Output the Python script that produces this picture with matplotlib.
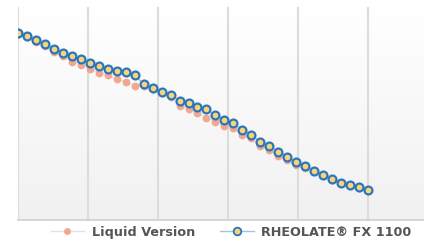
import numpy as np
import matplotlib.pyplot as plt
from matplotlib.lines import Line2D

# ── data (arbitrary units, no axis labels shown) ────────────────────────────
x_idx = np.arange(40)

liquid = [87.3, 85.7, 83.6, 81.5, 79.1, 77.2, 74.4, 73.0, 70.9, 69.2,
          68.1, 66.2, 64.8, 63.1, 62.9, 61.5, 59.6, 57.7, 53.5, 52.1,
          50.2, 48.1, 46.2, 43.9, 43.0, 39.9, 38.3, 34.7, 32.9, 30.0,
          28.2, 25.8, 24.4, 22.5, 20.7, 18.8, 17.4, 16.1, 15.0, 13.9]

rheolate = [87.9, 86.4, 84.5, 82.4, 80.5, 78.6, 76.8, 75.4, 73.9, 72.3,
            71.1, 70.1, 69.5, 67.9, 63.8, 62.0, 60.2, 58.5, 56.1, 54.9,
            53.2, 51.9, 49.3, 46.9, 45.4, 42.3, 40.1, 36.8, 34.7, 32.1,
            29.7, 27.2, 25.4, 23.2, 21.1, 19.1, 17.6, 16.3, 15.3, 14.1]

series_names = ["Liquid Version", "RHEOLATE® FX 1100"]

# ── figure ───────────────────────────────────────────────────────────────────
W, H = 424, 243
fig = plt.figure(figsize=(W / 100, H / 100), dpi=100)
ax = fig.add_axes([18 / W, (H - 220) / H, (W - 18) / W, 213 / H])

x_max = 45.24
ax.set_xlim(0, x_max)
ax.set_ylim(0, 100)

# light vertical gradient background (white at top -> pale grey at bottom)
shade = np.linspace(1.0, 0.945, 256)
grad = np.dstack([shade, shade, shade]).reshape(256, 1, 3)
ax.imshow(grad, extent=[0, x_max, 0, 100], aspect="auto", zorder=0)

# vertical gridlines
for gx in np.linspace(0, 39, 6):
    ax.axvline(gx, color="#dcdcdc", lw=1.5, zorder=1)

# series
ax.plot(x_idx, liquid, color="#dfe3ea", lw=1, zorder=2)
ax.plot(x_idx, liquid, ls="none", marker="o", ms=5.6, mfc="#f2a88e",
        mec="#f2a88e", mew=0, zorder=3)

ax.plot(x_idx, rheolate, color="#9fc4e8", lw=1, zorder=4)
ax.plot(x_idx, rheolate, ls="none", marker="o", ms=7.6, mfc="#5b9bd5",
        mec="none", alpha=0.3, zorder=5)
ax.plot(x_idx, rheolate, ls="none", marker="o", ms=5.6, mfc="#f6d47a",
        mec="#2a74bd", mew=1.5, zorder=6)

for side in ["top", "right", "left"]:
    ax.spines[side].set_visible(False)
ax.spines["bottom"].set_color("#d0d0d0")
ax.spines["bottom"].set_linewidth(1.2)
ax.set_xticks([])
ax.set_yticks([])

# legend
h1 = Line2D([], [], color="#dfe3ea", lw=1, marker="o", ms=5,
            mfc="#f2a88e", mec="#f2a88e", mew=0)
h2 = Line2D([], [], color="#9fc4e8", lw=1, marker="o", ms=5.5,
            mfc="#f6d47a", mec="#2a74bd", mew=1.3)
leg = fig.legend([h1, h2], series_names, loc="center",
                 bbox_to_anchor=(0.545, 0.045), ncol=2, frameon=False,
                 handlelength=2.6, columnspacing=2.0, handletextpad=0.6,
                 prop={"weight": "bold", "size": 9.2})
for t in leg.get_texts():
    t.set_color("#555555")

fig.savefig("out.png", dpi=100)
